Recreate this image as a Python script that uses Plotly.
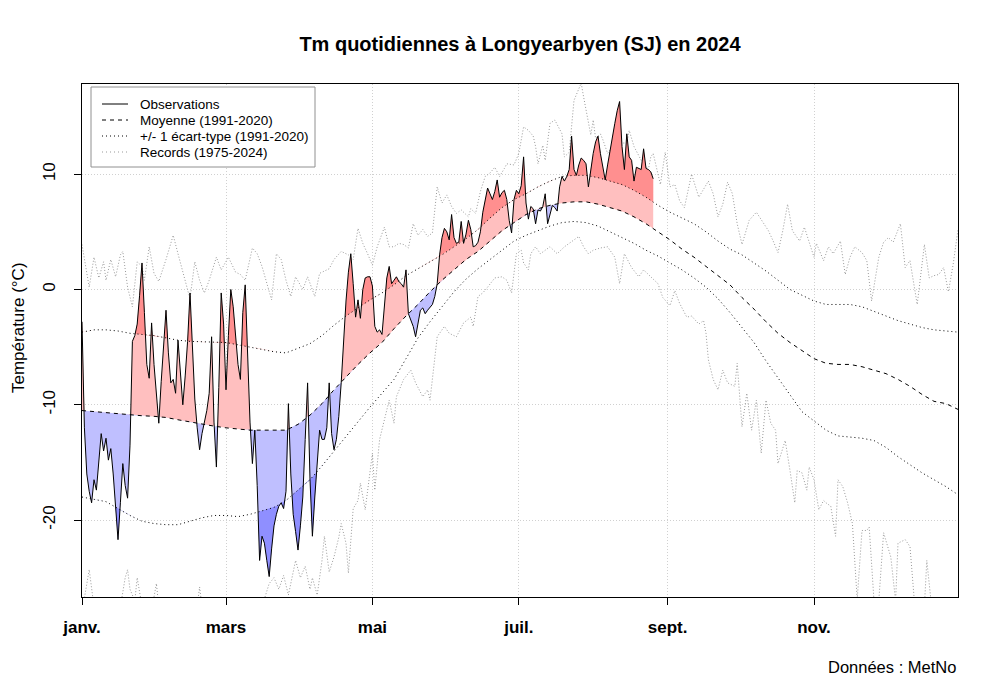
import numpy as np
import pandas as pd
import plotly.graph_objects as go

START = pd.Timestamp("2024-01-01")

# ---------------- data ----------------
# daily mean temperature 2024, from Jan 1 (day 0) to Aug 26 (day 238)
obs_2024 = [
    -2.8, -12.0, -16.0, -17.5, -18.5, -16.5, -17.4, -15.0, -12.5, -14.0,
    -12.9, -14.8, -13.8, -16.0, -19.0, -21.7, -18.5, -15.1, -17.0, -18.1,
    -13.5, -4.5, -4.0, -3.0, -0.5, 2.3, -2.0, -6.5, -7.7, -2.9,
    -6.5, -9.5, -11.6, -8.0, -5.0, -1.8, -5.5, -8.1, -7.8, -9.0,
    -4.4, -7.0, -10.0, -7.5, -4.5, -0.3, -5.0, -9.5, -12.0, -13.9,
    -12.5, -11.5, -10.5, -9.0, -4.1, -11.5, -15.4, -8.5, -0.3, -3.0,
    -8.7, -4.0, 0.0, -1.5, -4.0, -6.5, -7.8, -2.0, 0.4, -6.5,
    -11.5, -15.1, -12.2, -17.0, -23.5, -21.4, -22.0, -23.5, -24.9, -22.5,
    -20.5, -19.5, -18.8, -18.5, -19.0, -17.5, -9.9, -16.0, -19.5, -21.0,
    -22.6, -20.5, -18.0, -13.0, -8.1, -16.5, -21.4, -18.0, -15.0, -12.2,
    -13.0, -13.0, -12.0, -8.1, -12.5, -13.9, -13.0, -11.0, -8.1, -4.5,
    -1.0, 1.5, 3.1, 0.5, -2.4, -0.9, -2.5, 0.0, 1.0, 1.1,
    1.1, 0.3, -3.2, -3.7, -3.5, -3.9, -1.5, 1.0, 2.0, 0.5,
    0.8, 1.1, 0.7, 0.5, 0.2, 1.7, -2.1, -2.6, -3.2, -4.1,
    -2.8, -1.8, -1.6, -2.1, -1.8, -1.5, -1.3, -0.6, 0.5, 3.0,
    4.5, 5.3, 5.0, 4.3, 6.5, 4.5, 4.0, 4.1, 5.9, 4.0,
    4.8, 6.0, 5.2, 3.7, 3.8, 4.1, 5.0, 6.7, 7.8, 8.8,
    8.3, 7.8, 8.5, 9.5, 8.0, 8.4, 8.6, 7.8, 6.0, 4.9,
    7.8, 8.6, 8.3, 9.0, 11.5, 7.5, 6.1, 7.2, 7.0, 5.7,
    6.9, 6.8, 7.2, 8.3, 5.7, 6.6, 7.3, 7.1, 6.8, 8.9,
    9.8, 9.4, 9.8, 10.4, 13.3, 10.4, 9.9, 10.8, 11.4, 11.2,
    10.9, 8.9, 10.5, 11.8, 12.8, 13.3, 11.8, 10.5, 9.5, 10.8,
    12.1, 13.5, 14.4, 15.5, 16.3, 12.4, 10.4, 13.5, 11.5, 11.2,
    9.4, 10.6, 10.5, 10.4, 12.2, 10.5, 10.4, 10.2, 9.6,
]

# 1991-2020 climatology, sampled every 5 days (day 0, 5, ..., 365)
clim_days = list(range(0, 366, 5))
clim_mean = [
    -10.5, -10.6, -10.7, -10.8, -10.9, -10.95, -11.0, -11.1, -11.3, -11.5,
    -11.7, -11.85, -12.0, -12.1, -12.2, -12.2, -12.2, -12.2, -11.7, -10.9,
    -9.9, -8.7, -7.6, -6.5, -5.5, -4.6, -3.4, -2.3, -1.3, -0.2,
    0.8, 1.7, 2.6, 3.3, 4.2, 5.1, 5.8, 6.5, 7.0, 7.3,
    7.5, 7.6, 7.6, 7.4, 7.1, 6.8, 6.3, 5.7, 5.0, 4.3,
    3.5, 2.8, 2.0, 1.2, 0.4, -0.7, -1.7, -2.8, -3.8, -4.6,
    -5.3, -6.0, -6.4, -6.5, -6.5, -6.7, -7.0, -7.3, -7.8, -8.4,
    -9.1, -9.7, -9.9, -10.4,
]
clim_sd_up = [
    -3.7, -3.5, -3.5, -3.6, -3.8, -3.9, -4.0, -4.2, -4.4, -4.5,
    -4.55, -4.6, -4.6, -4.8, -5.0, -5.2, -5.4, -5.5, -5.1, -4.7,
    -4.0, -3.1, -2.3, -1.6, -0.9, -0.3, 0.4, 1.2, 1.8, 2.4,
    3.0, 3.7, 4.4, 5.2, 6.2, 7.1, 7.8, 8.3, 8.9, 9.4,
    9.8, 9.9, 9.9, 9.7, 9.4, 9.1, 8.6, 8.0, 7.3, 6.7,
    6.2, 5.7, 5.0, 4.2, 3.5, 3.0, 2.3, 1.6, 0.8, 0.0,
    -0.5, -1.0, -1.3, -1.3, -1.3, -1.5, -1.9, -2.3, -2.7, -3.0,
    -3.3, -3.5, -3.6, -3.7,
]
clim_sd_lo = [
    -18.0, -18.2, -18.4, -19.0, -19.6, -20.1, -20.3, -20.4, -20.4, -20.1,
    -19.8, -19.6, -19.6, -19.7, -19.5, -19.2, -18.9, -18.3, -17.4, -16.5,
    -15.3, -14.0, -12.7, -11.5, -10.2, -9.0, -7.8, -6.0, -4.2, -2.8,
    -1.5, -0.2, 0.9, 1.8, 2.6, 3.4, 4.2, 4.7, 5.1, 5.5,
    5.8, 5.9, 5.8, 5.5, 5.0, 4.5, 4.0, 3.4, 2.9, 2.3,
    1.7, 1.0, 0.2, -0.8, -2.0, -3.3, -4.6, -6.2, -7.7, -9.2,
    -10.6, -11.4, -12.2, -12.7, -12.8, -12.9, -13.1, -13.7, -14.5, -15.2,
    -15.9, -16.5, -17.1, -17.8,
]

# records 1975-2024 (day of year, value)
rec_max_days = [
    0, 3, 5, 7, 9, 10, 12, 14, 16, 17, 19, 21, 23, 25, 26, 28, 30, 32, 35, 38,
    40, 43, 45, 47, 49, 51, 53, 56, 58, 61, 64, 66, 68, 71, 73, 75, 78, 79, 81, 83,
    85, 87, 89, 92, 94, 97, 99, 103, 105, 108, 111, 113, 115, 117, 119, 121, 123, 126, 128, 130,
    132, 134, 136, 138, 140, 142, 144, 146, 148, 150, 152, 154, 156, 158, 161, 162, 164, 166, 168, 170,
    172, 174, 176, 177, 180, 182, 184, 186, 188, 189, 190, 192, 193, 195, 197, 200, 201, 203, 205, 207,
    208, 209, 211, 212, 213, 214, 216, 217, 219, 222, 224, 227, 228, 230, 233, 236, 237, 238, 239, 241,
    243, 245, 247, 249, 251, 254, 257, 259, 261, 263, 265, 267, 269, 271, 273, 275, 278, 281, 284, 286,
    288, 290, 292, 294, 296, 299, 301, 303, 305, 306, 309, 311, 313, 316, 318, 320, 322, 325, 327, 329,
    332, 334, 336, 338, 341, 343, 345, 348, 351, 353, 355, 357, 359, 361, 363, 365,
]
rec_max_vals = [
    3.9, 0.2, 2.8, 1.0, 2.4, 0.8, 2.6, 1.1, 3.0, 3.3, 0.2, -1.5, 2.4, 2.0, 0.8, 3.7, 1.4, 0.7, 2.6, 4.7,
    3.1, 0.8, -0.8, 2.4, 0.8, -0.3, 0.8, 2.8, 1.7, 2.8, 1.5, 1.3, 0.8, 3.6, 3.1, 2.0, -0.3, -0.9, 3.1, 2.6,
    0.8, -0.6, 1.1, 0.0, 1.1, -0.6, 1.4, 1.8, 2.6, 3.3, 3.0, 2.6, 5.3, 4.0, 3.1, 2.1, 3.7, 5.4, 3.7, 3.7,
    4.0, 3.9, 3.6, 5.7, 4.7, 5.2, 4.6, 4.9, 8.9, 7.5, 8.2, 7.2, 6.6, 6.9, 6.3, 7.0, 6.6, 8.5, 9.8, 10.1,
    10.6, 9.8, 10.5, 10.9, 10.8, 11.8, 14.1, 13.8, 13.3, 12.4, 10.9, 12.5, 11.2, 14.4, 14.7, 13.5, 11.5, 11.9, 16.4, 17.3,
    17.9, 16.7, 14.7, 13.4, 14.7, 13.1, 13.5, 13.0, 11.8, 12.7, 12.7, 12.7, 13.8, 12.4, 11.2, 10.4, 11.5, 11.8, 10.9, 9.1,
    11.9, 8.9, 9.1, 7.7, 7.1, 10.0, 8.0, 8.7, 9.4, 8.3, 6.3, 7.4, 9.3, 8.3, 5.7, 3.9, 6.0, 6.7, 5.7, 5.1,
    4.2, 3.2, 5.1, 7.4, 5.1, 4.2, 5.4, 4.0, 2.8, 4.0, 2.5, 3.7, 3.1, 4.2, 1.3, 2.8, 3.7, 3.2, 2.5, -1.0,
    2.8, 4.1, 4.5, 4.1, 5.7, 1.9, 2.5, -1.3, 3.9, 1.0, 1.2, 1.3, 1.9, -0.2, 2.2, 5.2,
]
rec_min_days = [
    0, 2, 3, 5, 8, 12, 16, 18, 19, 20, 22, 23, 25, 28, 31, 32, 36, 40, 44, 48,
    49, 50, 55, 60, 65, 70, 75, 78, 80, 82, 84, 86, 89, 91, 93, 95, 96, 98, 100, 101,
    103, 105, 107, 108, 110, 111, 113, 115, 116, 118, 121, 122, 124, 128, 130, 131, 134, 137, 139, 142,
    144, 145, 148, 151, 153, 156, 159, 162, 163, 165, 167, 169, 172, 175, 177, 179, 181, 183, 184, 186,
    187, 189, 191, 193, 195, 198, 201, 203, 205, 207, 209, 211, 213, 216, 219, 222, 224, 226, 229, 232,
    234, 237, 240, 242, 245, 247, 249, 252, 254, 257, 259, 260, 261, 263, 265, 267, 269, 272, 273, 275,
    277, 279, 281, 283, 285, 287, 289, 290, 293, 295, 297, 298, 300, 302, 303, 305, 307, 309, 310, 312,
    314, 315, 317, 319, 321, 323, 325, 327, 328, 330, 332, 334, 337, 339, 340, 343, 345, 347, 349, 351,
    352, 354, 357, 361, 365,
]
rec_min_vals = [
    -28.0, -25.5, -24.3, -27.5, -29.0, -28.0, -27.5, -25.0, -24.3, -26.0, -27.0, -25.0, -27.5, -29.0, -25.5, -27.5, -29.0, -28.0, -29.0, -27.5,
    -25.8, -27.5, -29.0, -28.0, -29.0, -28.0, -27.5, -25.5, -25.0, -26.0, -24.8, -26.5, -23.5, -25.0, -24.0, -26.0, -25.0, -26.5, -23.5, -21.4,
    -24.5, -23.2, -21.5, -20.3, -22.0, -24.6, -19.0, -18.3, -16.8, -19.1, -14.2, -17.4, -13.0, -9.6, -11.6, -9.3, -7.8, -7.0, -8.1, -9.3,
    -8.7, -9.6, -4.1, -3.2, -3.8, -4.1, -2.9, -2.4, -3.2, -0.6, -0.3, 0.2, 1.0, 1.1, 0.8, -0.3, 3.1, 3.4, 2.3, 1.7,
    3.1, 3.7, 3.1, 3.4, 3.7, 3.1, 3.7, 4.0, 4.3, 4.6, 3.7, 3.1, 3.4, 3.6, 3.7, 2.8, 0.5, 3.1, 1.9, 1.1,
    1.7, 1.1, 0.5, -0.7, -1.4, -0.1, -1.2, -2.4, -2.3, -3.0, -2.7, -3.8, -6.1, -7.8, -8.7, -7.0, -8.1, -8.4, -6.4, -11.9,
    -9.0, -12.2, -9.6, -14.2, -9.6, -11.6, -12.2, -15.1, -13.1, -15.7, -18.5, -15.7, -15.9, -17.4, -15.4, -16.5, -19.1, -18.3, -18.5, -18.8,
    -21.4, -16.5, -17.1, -18.5, -20.3, -26.9, -20.9, -20.9, -20.6, -27.0, -27.0, -21.1, -23.2, -27.0, -22.0, -21.7, -22.3, -27.5, -28.0, -27.5,
    -23.5, -27.5, -29.0, -28.5, -28.0,
]

month_tick_days = [0, 60, 121, 182, 244, 305]
month_tick_text = ["janv.", "mars", "mai", "juil.", "sept.", "nov."]
y_tick_vals = [-20, -10, 0, 10]
y_tick_text = ["-20", "-10", "0", "10"]

legend_labels = ["Observations", "Moyenne (1991-2020)",
                 "+/- 1 écart-type (1991-2020)", "Records (1975-2024)"]

# ---------------- styling ----------------
FONT = "Liberation Sans, Arial, sans-serif"
PINK = "rgb(255,191,191)"
RED = "rgb(255,143,143)"
LBLUE = "rgb(191,191,255)"
BLUE = "rgb(143,143,255)"
REC_COL = "#999999"
DASH = "4px,4px"
DOT = "1px,3px"

# plot area in page pixels (page has an 8px body margin)
OFF = 8
L, R, T, B = 82, 958, 84, 597
W, H = 1000, 699
Y0, Y1 = -26.67, 17.82


def dates(d):
    return START + pd.to_timedelta(np.asarray(d, dtype=float), unit="D")


def px2x(px):
    return (px - L) / (R - L)


def py2y(py):
    return (B - py) / (B - T)


obs_days = np.arange(len(obs_2024), dtype=float)
obs_v = np.asarray(obs_2024, dtype=float)
mean_o = np.interp(obs_days, clim_days, clim_mean)
up_o = np.interp(obs_days, clim_days, clim_sd_up)
lo_o = np.interp(obs_days, clim_days, clim_sd_lo)


def band(ref, above):
    """Boundary of the area between obs and ref on one side, with crossing points."""
    xs, yf, yb = [], [], []
    n = len(obs_v)
    for i in range(n):
        o, r = obs_v[i], ref[i]
        xs.append(obs_days[i])
        yf.append(max(o, r) if above else min(o, r))
        yb.append(r)
        if i < n - 1:
            a0 = o - r
            a1 = obs_v[i + 1] - ref[i + 1]
            if a0 * a1 < 0:
                t = a0 / (a0 - a1)
                xc = obs_days[i] + t
                yc = o + t * (obs_v[i + 1] - o)
                xs.append(xc)
                yf.append(yc)
                yb.append(yc)
    return np.array(xs), np.array(yf), np.array(yb)


fig = go.Figure()

# records first (behind)
fig.add_trace(go.Scatter(x=dates(rec_max_days), y=rec_max_vals, mode="lines",
                         line=dict(color=REC_COL, width=1, dash="1px,2px"),
                         showlegend=False, hoverinfo="skip"))
fig.add_trace(go.Scatter(x=dates(rec_min_days), y=rec_min_vals, mode="lines",
                         line=dict(color=REC_COL, width=1, dash="1px,2px"),
                         showlegend=False, hoverinfo="skip"))

# coloured areas
for ref, above, col in [(mean_o, True, PINK), (up_o, True, RED),
                        (mean_o, False, LBLUE), (lo_o, False, BLUE)]:
    xs, yf, yb = band(ref, above)
    fig.add_trace(go.Scatter(x=dates(xs), y=yb, mode="lines", line=dict(width=0),
                             showlegend=False, hoverinfo="skip"))
    fig.add_trace(go.Scatter(x=dates(xs), y=yf, mode="lines", line=dict(width=0),
                             fill="tonexty", fillcolor=col,
                             showlegend=False, hoverinfo="skip"))

# climatology lines
for vals, dash in [(clim_sd_up, DOT), (clim_sd_lo, DOT), (clim_mean, DASH)]:
    fig.add_trace(go.Scatter(x=dates(clim_days), y=vals, mode="lines",
                             line=dict(color="black", width=1, dash=dash),
                             showlegend=False, hoverinfo="skip"))

# observations
fig.add_trace(go.Scatter(x=dates(obs_days), y=obs_v, mode="lines",
                         line=dict(color="black", width=1),
                         showlegend=False))

# ---------------- axes ----------------
fig.update_xaxes(
    type="date", range=[dates([0])[0], dates([365])[0]],
    tickvals=dates(month_tick_days), ticktext=month_tick_text,
    ticks="outside", ticklen=7, tickcolor="black", tickwidth=1,
    showline=True, linecolor="black", linewidth=1, mirror=True,
    showgrid=True, gridcolor="#D0D0D0", griddash="1px,2px", gridwidth=1,
    zeroline=False,
    tickfont=dict(family=FONT, size=17, color="black", weight="bold"),
    ticklabelstandoff=8,
)
fig.update_yaxes(
    range=[Y0, Y1], tickvals=y_tick_vals, ticktext=y_tick_text, tickangle=-90,
    ticks="outside", ticklen=7, tickcolor="black", tickwidth=1,
    showline=True, linecolor="black", linewidth=1, mirror=True,
    showgrid=True, gridcolor="#D0D0D0", griddash="1px,2px", gridwidth=1,
    zeroline=False,
    tickfont=dict(family=FONT, size=17, color="black"),
    ticklabelstandoff=12,
)

# ---------------- legend (drawn) ----------------
shapes = [dict(type="rect", xref="paper", yref="paper",
               x0=px2x(91), x1=px2x(315), y0=py2y(167), y1=py2y(87),
               line=dict(color="#909090", width=1), fillcolor="white", layer="above")]
leg_styles = [("black", "solid"), ("black", DASH), ("black", DOT), (REC_COL, DOT)]
annotations = []
for i, (lab, (c, dsh)) in enumerate(zip(legend_labels, leg_styles)):
    yy = 104 + 16 * i
    shapes.append(dict(type="line", xref="paper", yref="paper",
                       x0=px2x(102), x1=px2x(128), y0=py2y(yy), y1=py2y(yy),
                       line=dict(color=c, width=1, dash=dsh), layer="above"))
    annotations.append(dict(xref="paper", yref="paper", x=px2x(138), y=py2y(yy),
                            text=lab, showarrow=False, xanchor="left", yanchor="middle",
                            font=dict(family=FONT, size=13.5, color="black")))

annotations.append(dict(xref="paper", yref="paper", x=px2x(18), y=py2y(328),
                        text="Température (°C)", textangle=-90, showarrow=False,
                        xanchor="center", yanchor="middle",
                        font=dict(family=FONT, size=17, color="black")))
annotations.append(dict(xref="paper", yref="paper", x=px2x(958), y=py2y(667),
                        text="Données : MetNo", showarrow=False,
                        xanchor="right", yanchor="middle",
                        font=dict(family=FONT, size=16.5, color="black")))

fig.update_layout(
    width=W, height=H,
    margin=dict(l=L - OFF, r=W - R + OFF, t=T - OFF, b=H - B + OFF),
    paper_bgcolor="white", plot_bgcolor="white",
    title=dict(text="Tm quotidiennes à Longyearbyen (SJ) en 2024",
               x=(520 - OFF) / W, xanchor="center",
               y=1 - (44 - OFF) / H, yanchor="middle",
               font=dict(family=FONT, size=20, color="black", weight="bold")),
    shapes=shapes, annotations=annotations,
    showlegend=False, hovermode=False,
)

fig.write_html("out.html")
